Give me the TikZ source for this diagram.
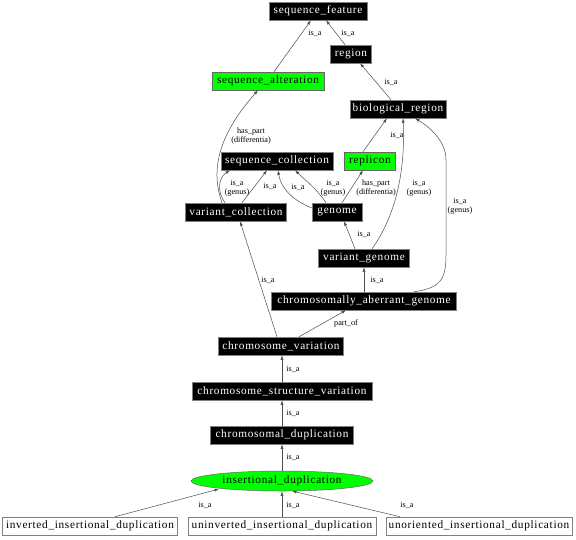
\documentclass[tikz,border=0pt]{standalone}
\usepackage{fontspec}
\setmainfont{Liberation Serif}
\newfontfamily\nodefont[LetterSpace=6]{Liberation Serif}
\usetikzlibrary{arrows.meta,shapes.geometric,calc}
\begin{document}
\begin{tikzpicture}[x=1pt,y=-1pt,
  base/.style={font=\nodefont\fontsize{11.3}{12}\selectfont,minimum height=18pt,inner sep=1pt,line width=0.5pt},
  bk/.style={base,draw=gray,fill=black,text=white},
  gn/.style={base,draw=black!60,fill=green,text=black},
  wt/.style={base,draw=gray,fill=white,text=black},
  ed/.style={draw=black!70,line width=0.5pt,-{Latex[length=4.5pt,width=3pt]}},
  lb/.style={font=\fontsize{8.2}{8.4}\selectfont,align=center,inner sep=0pt,text=black}
]
\useasboundingbox (0,0) rectangle (576,539);
\fill[white] (0,0) rectangle (576,539);

% nodes
\node[bk,minimum width=98pt] (sf) at (318,11) {sequence\_feature};
\node[bk,minimum width=41pt] (reg) at (351,54) {region};
\node[gn,minimum width=112pt] (sa) at (268,81) {sequence\_alteration};
\node[bk,minimum width=96pt] (br) at (398,109) {biological\_region};
\node[bk,minimum width=112pt] (sc) at (277,161) {sequence\_collection};
\node[gn,minimum width=51pt] (rep) at (370,161) {replicon};
\node[bk,minimum width=101pt] (vc) at (236,212) {variant\_collection};
\node[bk,minimum width=50pt] (gen) at (337,212) {genome};
\node[bk,minimum width=91pt] (vg) at (364,258) {variant\_genome};
\node[bk,minimum width=185pt] (cag) at (364,301) {chromosomally\_aberrant\_genome};
\node[bk,minimum width=125pt] (cv) at (281,346) {chromosome\_variation};
\node[bk,minimum width=180pt] (csv) at (282,391) {chromosome\_structure\_variation};
\node[bk,minimum width=143pt] (cd) at (282,435) {chromosomal\_duplication};
\node[gn,ellipse,minimum width=182pt,minimum height=20pt,inner sep=0pt] (idup) at (282,481) {insertional\_duplication};
\node[wt,minimum width=175pt] (inv) at (90,526) {inverted\_insertional\_duplication};
\node[wt,minimum width=188pt] (uninv) at (282,526) {uninverted\_insertional\_duplication};
\node[wt,minimum width=186pt] (unor) at (479,526) {unoriented\_insertional\_duplication};

% edges
\draw[ed] ($(sa.north)+(6,0)$) -- ($(sf.south)+(-7,0)$);
\node[lb] (l1) at (315,33) {is\_a};
\draw[ed] ($(reg.north)+(-6,0)$) -- ($(sf.south)+(8,0)$);
\node[lb] (l2) at (348,33) {is\_a};
\draw[ed] ($(br.north)+(-7,0)$) -- ($(reg.south)+(9,0)$);
\node[lb] (l3) at (391,82) {is\_a};
\draw[ed] ($(rep.north)+(-7,0)$) -- ($(br.south)+(-11,0)$);
\node[lb] (l4) at (397,135) {is\_a};

\draw[ed] ($(vc.north)+(-14,0)$) .. controls (212,175) and (214,140) .. ($(sa.south)+(-10,0)$);
\node[lb] (l5) at (251,136) {has\_part\\(differentia)};
\draw[ed] ($(vc.north)+(-11,0)$) .. controls (217,192) and (218,178) .. ($(sc.south)+(-47,0)$);
\node[lb] (l6) at (237,188) {is\_a\\(genus)};
\draw[ed] ($(vc.north)+(6,0)$) -- ($(sc.south)+(-10,0)$);
\node[lb] (l7) at (270,186) {is\_a};
\draw[ed] ($(gen.west)+(0,-4)$) .. controls (292,200) and (281,188) .. ($(sc.south)+(1,0)$);
\node[lb] (l8) at (298,187) {is\_a};
\draw[ed] ($(gen.north)+(-11,0)$) .. controls (318,190) and (305,180) .. ($(sc.south)+(18,0)$);
\node[lb] (l9) at (333,188) {is\_a\\(genus)};
\draw[ed] ($(gen.north)+(5,0)$) -- ($(rep.south)+(-7,0)$);
\node[lb] (l10) at (376,188) {has\_part\\(differentia)};
\draw[ed] ($(vg.north)+(-9,0)$) -- ($(gen.south)+(7,0)$);
\node[lb] (l11) at (364,234) {is\_a};
\draw[ed] ($(vg.north)+(8,0)$) .. controls (400,210) and (405,160) .. ($(br.south)+(5,0)$);
\node[lb] (l12) at (419,188) {is\_a\\(genus)};
\draw[ed] (cag.north) -- (vg.south);
\node[lb] (l13) at (377,280) {is\_a};
\draw[ed] ($(cag.north)+(50,0)$) .. controls (440,288) and (446,280) .. (446,255) -- (446,160) .. controls (446,140) and (428,126) .. ($(br.south)+(17,0)$);
\node[lb] (l14) at (460,206) {is\_a\\(genus)};
\draw[ed] ($(cv.north)+(-4,0)$) -- ($(vc.south)+(4,0)$);
\node[lb] (l15) at (268,280) {is\_a};
\draw[ed] ($(cv.north)+(18,0)$) -- ($(cag.south)+(-18,0)$);
\node[lb] (l16) at (346,323) {part\_of};
\draw[ed] (csv.north) -- (cv.south -| csv.north);
\node[lb] (l17) at (293,369) {is\_a};
\draw[ed] (cd.north) -- (csv.south);
\node[lb] (l18) at (293,413) {is\_a};
\draw[ed] (idup.north) -- (cd.south);
\node[lb] (l19) at (293,457) {is\_a};
\draw[ed] ($(inv.north)+(25,0)$) -- ($(idup)+(-63,8)$);
\node[lb] (l20) at (205,505) {is\_a};
\draw[ed] (uninv.north) -- (idup.south);
\node[lb] (l21) at (293,505) {is\_a};
\draw[ed] ($(unor.north)+(-79,0)$) -- ($(idup)+(10,10)$);
\node[lb] (l22) at (407,505) {is\_a};
\end{tikzpicture}
\end{document}
